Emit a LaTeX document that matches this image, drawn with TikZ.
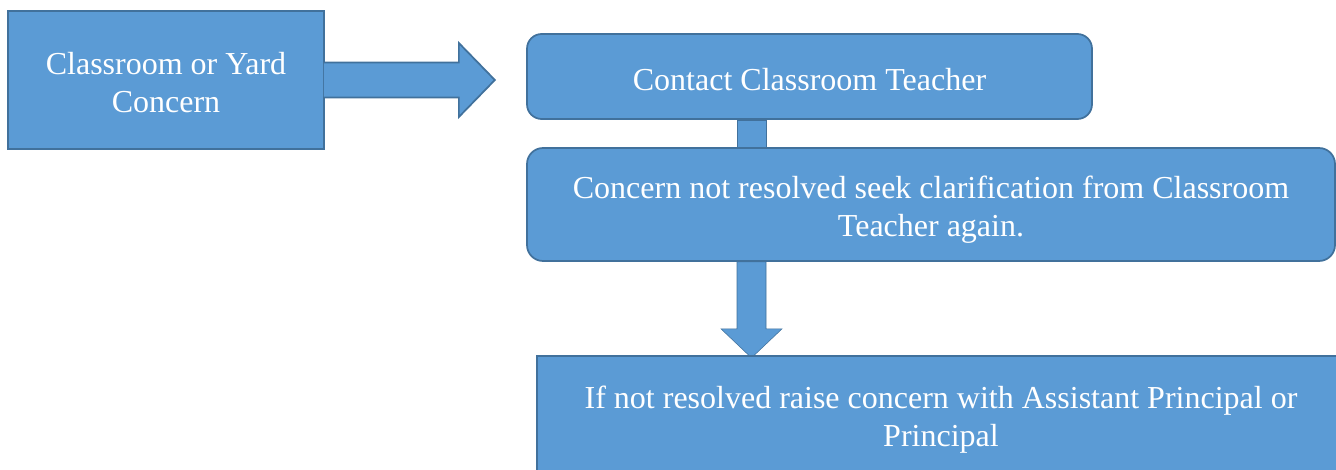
\documentclass[tikz,border=0pt]{standalone}
\usepackage{fontspec}
\setmainfont{Liberation Serif}
\usetikzlibrary{calc,backgrounds}
\definecolor{boxfill}{HTML}{5B9BD5}
\definecolor{boxline}{HTML}{41719C}
\newcommand\topgap[1]{\rule{0pt}{#1}}

\begin{document}
\begin{tikzpicture}
[x=0.75pt,y=-0.75pt,line width=1.3pt,
 every node/.style={fill=boxfill,draw=boxline,text=white,align=center,inner sep=0pt,
   font=\fontsize{24}{28.5}\selectfont},
 blockarrow/.style={fill=boxfill,draw=boxline,line join=miter}]
\useasboundingbox (0,0) rectangle (1336,470);
\clip (0,0) rectangle (1336,470);
\node[minimum width=237pt,minimum height=103.5pt] (yard) at (166,80) {\topgap{21pt}Classroom or Yard\\Concern};
\node[rounded corners=11pt,minimum width=423.75pt,minimum height=63.75pt] (contact) at (809.5,76.5) {\topgap{21pt}Contact Classroom Teacher};
\node[rounded corners=12pt,minimum width=606pt,minimum height=84.75pt] (again) at (931,204.5) {\topgap{24pt}Concern not resolved seek clarification from Classroom\\Teacher again.};
\node[minimum width=606pt,minimum height=88.5pt] (principal) at (941,415) {\topgap{24pt}If not resolved raise concern with Assistant Principal or\\Principal};
% big arrow out of the first box
\filldraw[blockarrow] ($(yard.east)+(-1,-17.5)$) -- ++(135,0) -- ++(0,-19.5) -- ++(36,37)
  -- ++(-36,37) -- ++(0,-19.5) -- ++(-135,0);
% links behind the boxes
\begin{scope}[on background layer]
\coordinate (top) at (751.5,0 |- contact.south);
\coordinate (mid) at (751.5,0 |- again.south);
\filldraw[blockarrow] ($(top)+(-14.5,0)$) rectangle ($(again.north -| top)+(14.5,0)$);
\filldraw[blockarrow] ($(mid)+(-14.5,0)$) -- ++(0,67) -- ++(-16,0) -- ++(30.5,29)
  -- ++(30.5,-29) -- ++(-16,0) -- ++(0,-67) -- cycle;
\end{scope}
\end{tikzpicture}
\end{document}
